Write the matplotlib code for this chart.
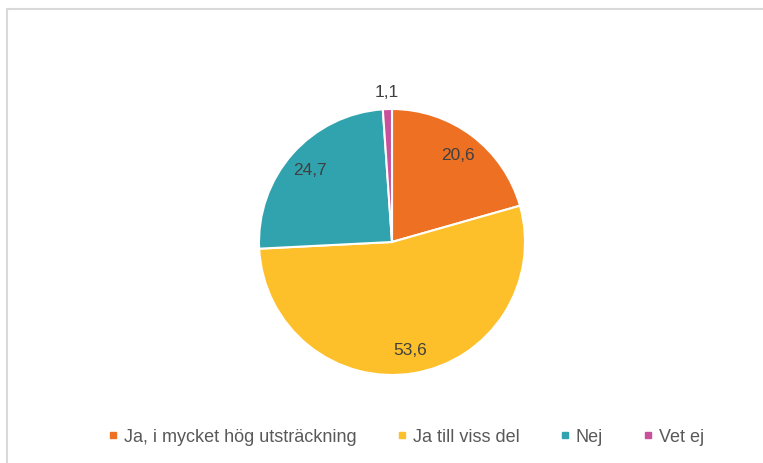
import numpy as np
import matplotlib
matplotlib.use('Agg')
import matplotlib.pyplot as plt
from matplotlib.patches import Rectangle

categories = ['Ja, i mycket hög utsträckning', 'Ja till viss del', 'Nej', 'Vet ej']
values = [20.6, 53.6, 24.7, 1.1]
value_labels = ['20,6', '53,6', '24,7', '1,1']
colors = ['#EE7023', '#FDC02A', '#31A3AE', '#C9509A']

plt.rcParams['font.family'] = ['Liberation Sans', 'DejaVu Sans']

W, H = 763, 464
fig = plt.figure(figsize=(W / 100, H / 100), dpi=100)

# light frame around the chart area
fig.patches.append(Rectangle((7 / W, -0.1), 1.2, (H - 10) / H + 0.1,
                             transform=fig.transFigure, fill=False,
                             edgecolor='#D9D9D9', linewidth=1.5))

r_px = 133
cx, cy = 392, 243
half = 1.25 * r_px
ax = fig.add_axes([(cx - half) / W, (H - cy - half) / H, 2 * half / W, 2 * half / H])

wedges, _ = ax.pie(values, colors=colors, startangle=90, counterclock=False,
                   wedgeprops=dict(edgecolor='white', linewidth=1.5))

# data labels
for w, v, lab in zip(wedges, values, value_labels):
    mid = np.deg2rad((w.theta1 + w.theta2) / 2)
    d = 1.13 if v < 5 else 0.82
    ax.text(d * np.cos(mid), d * np.sin(mid), lab, ha='center', va='center',
            fontsize=12.5, color='#404040')

handles = [plt.Line2D([], [], marker='s', linestyle='', markersize=5,
                      markerfacecolor=c, markeredgecolor=c) for c in colors]
fig.legend(handles, categories, loc='center', bbox_to_anchor=(406 / W, 1 - 438 / H),
           ncol=4, frameon=False, fontsize=13, handlelength=0.6,
           handletextpad=0.3, columnspacing=2.2, labelcolor='#595959')

fig.savefig('out.png', dpi=100, facecolor='white')
